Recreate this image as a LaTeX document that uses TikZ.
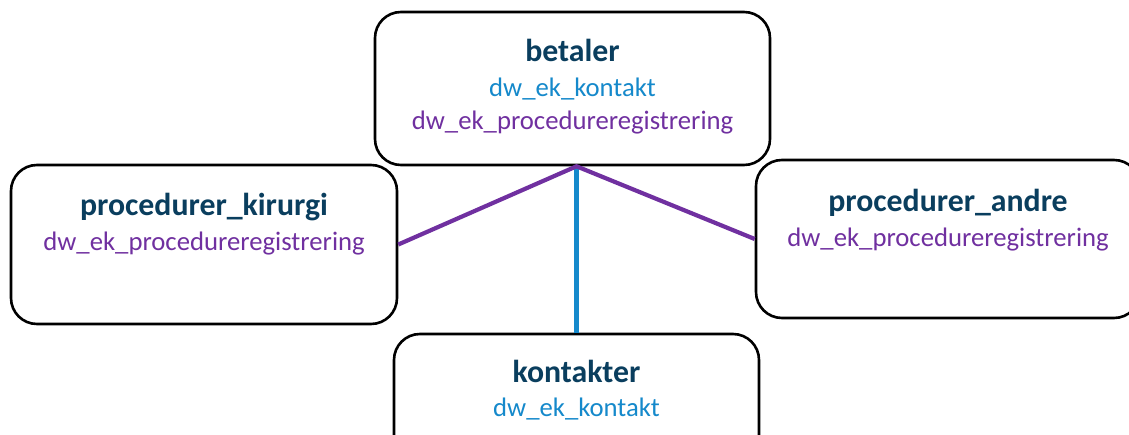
\documentclass[tikz,border=0pt]{standalone}
\usepackage{fontspec}
\setmainfont{Carlito}
\usetikzlibrary{calc}
\definecolor{titleblue}{RGB}{10,62,94}
\definecolor{linkblue}{RGB}{21,137,203}
\definecolor{linkpurple}{RGB}{112,48,160}

\begin{document}
\begin{tikzpicture}[x=1pt,y=-1pt,
  box/.style={draw=black, line width=2.6pt, rounded corners=26pt, fill=white, inner sep=0pt},
  title/.style={anchor=base, inner sep=0pt, text=titleblue, font=\fontsize{31.8}{36}\selectfont\bfseries},
  sub/.style={anchor=base, inner sep=0pt, font=\fontsize{26.7}{30}\selectfont},
  link/.style={line width=4.2pt}]
\useasboundingbox (0,0) rectangle (1129,435);

% Các hộp
\node[box, minimum width=395pt, minimum height=153pt] (betaler) at (572.5,88.5) {};
\node[box, minimum width=386pt, minimum height=159pt] (kirurgi) at (204,244.5) {};
\node[box, minimum width=384pt, minimum height=158pt] (andre) at (948,239) {};
\node[box, minimum width=365pt, minimum height=158pt] (kontakter) at (576.5,413) {};

% Chữ trong hộp
\node[title] (betalerT) at ($(betaler.north)+(0,51)$) {betaler};
\node[sub, text=linkblue] (betalerK) at ($(betaler.north)+(0,86)$) {dw\_ek\_kontakt};
\node[sub, text=linkpurple] (betalerP) at ($(betaler.north)+(0,119)$) {dw\_ek\_procedureregistrering};

\node[title] (kirurgiT) at ($(kirurgi.north)+(0,52)$) {procedurer\_kirurgi};
\node[sub, text=linkpurple] (kirurgiP) at ($(kirurgi.north)+(0,87)$) {dw\_ek\_procedureregistrering};

\node[title] (andreT) at ($(andre.north)+(0,53)$) {procedurer\_andre};
\node[sub, text=linkpurple] (andreP) at ($(andre.north)+(0,88)$) {dw\_ek\_procedureregistrering};

\node[title] (kontakterT) at ($(kontakter.north)+(0,50)$) {kontakter};
\node[sub, text=linkblue] (kontakterK) at ($(kontakter.north)+(0,84)$) {dw\_ek\_kontakt};

% Các đường nối
\coordinate (apex) at (betaler.south -| kontakter.north);
\draw[link, linkblue] (apex) -- (kontakter.north);
\draw[link, linkpurple] (kirurgi.east) -- (apex) -- (andre.west);
\end{tikzpicture}
\end{document}
